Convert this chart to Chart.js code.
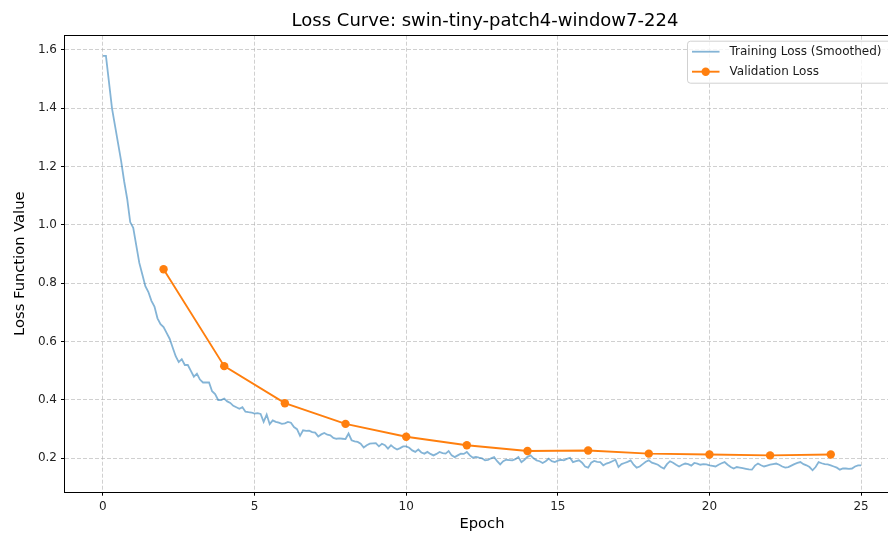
<!DOCTYPE html>
<html><head><meta charset="utf-8">
<script src="https://cdn.jsdelivr.net/npm/chart.js@4/dist/chart.umd.min.js"></script>
<style>
html,body{margin:0;padding:0;overflow:hidden;background:#fff;width:888px;height:533px}
#wrap{position:absolute;left:0;top:0;width:970px;height:533px}
</style></head>
<body><div id="wrap"><canvas id="c" width="970" height="533"></canvas></div>
<script>
const chartTitle = "Loss Curve: swin-tiny-patch4-window7-224";
const xAxisTitle = "Epoch";
const yAxisTitle = "Loss Function Value";
const xTicks = [0, 5, 10, 15, 20, 25];
const yTicks = [0.2, 0.4, 0.6, 0.8, 1.0, 1.2, 1.4, 1.6];

// Training loss (smoothed), one value every 0.1 epoch from 0 to 25
const trainLoss = [
1.58,1.58,1.49,1.40,1.34,1.28,1.22,1.15,1.09,1.01,
0.99,0.93,0.87,0.83,0.79,0.77,0.74,0.72,0.68,0.66,
0.65,0.63,0.61,0.58,0.55,0.53,0.54,0.52,0.52,0.50,
0.48,0.49,0.47,0.46,0.46,0.46,0.43,0.42,0.40,0.40,
0.405,0.395,0.39,0.38,0.375,0.37,0.375,0.36,0.358,0.357,
0.353,0.355,0.352,0.325,0.35,0.317,0.33,0.325,0.322,0.318,
0.32,0.325,0.322,0.307,0.30,0.277,0.296,0.294,0.295,0.29,
0.288,0.275,0.282,0.287,0.281,0.279,0.27,0.267,0.268,0.267,
0.266,0.285,0.262,0.258,0.256,0.25,0.237,0.245,0.25,0.251,
0.252,0.241,0.25,0.245,0.233,0.245,0.236,0.23,0.235,0.241,
0.241,0.236,0.227,0.222,0.23,0.22,0.216,0.222,0.215,0.21,
0.215,0.222,0.218,0.216,0.225,0.21,0.204,0.21,0.216,0.215,
0.222,0.21,0.202,0.205,0.202,0.20,0.193,0.195,0.20,0.204,
0.19,0.179,0.19,0.195,0.194,0.193,0.197,0.204,0.187,0.195,
0.205,0.21,0.20,0.193,0.19,0.184,0.19,0.199,0.19,0.187,
0.192,0.195,0.193,0.198,0.202,0.187,0.19,0.193,0.185,0.172,
0.168,0.185,0.191,0.188,0.187,0.176,0.182,0.185,0.19,0.195,
0.17,0.18,0.184,0.188,0.193,0.178,0.168,0.172,0.18,0.188,
0.193,0.185,0.182,0.178,0.17,0.165,0.18,0.19,0.185,0.178,
0.172,0.178,0.182,0.18,0.175,0.184,0.182,0.178,0.18,0.179,
0.176,0.174,0.172,0.178,0.183,0.187,0.178,0.17,0.165,0.17,
0.168,0.166,0.164,0.162,0.161,0.175,0.182,0.176,0.172,0.175,
0.178,0.18,0.182,0.178,0.172,0.168,0.17,0.175,0.18,0.184,
0.187,0.18,0.176,0.17,0.159,0.17,0.187,0.183,0.18,0.179,
0.176,0.172,0.168,0.161,0.165,0.165,0.164,0.165,0.172,0.176,
0.176
];
const trainEpochs = trainLoss.map((_, i) => i / 10);

const valEpochs = [2, 4, 6, 8, 10, 12, 14, 16, 18, 20, 22, 24];
const valLoss = [0.848, 0.516, 0.389, 0.318, 0.274, 0.245, 0.225, 0.227, 0.216, 0.213, 0.210, 0.213];

const FONT = '"DejaVu Sans", "Liberation Sans", sans-serif';

const framePlugin = {
  id: 'frame',
  afterDatasetsDraw(chart) {
    const a = chart.chartArea, ctx = chart.ctx;
    ctx.save();
    ctx.strokeStyle = '#000';
    ctx.lineWidth = 1;
    ctx.strokeRect(Math.round(a.left) - 0.5, Math.round(a.top) - 0.5,
                   Math.round(a.right - a.left) + 1, Math.round(a.bottom - a.top) + 1);
    ctx.restore();
  }
};

const legendPlugin = {
  id: 'mplLegend',
  afterDraw(chart) {
    const a = chart.chartArea, ctx = chart.ctx;
    const x0 = a.right - 211.5, y0 = a.top + 5.5, w = 205, h = 42;
    ctx.save();
    ctx.beginPath();
    ctx.roundRect(x0, y0, w, h, 3);
    ctx.fillStyle = 'rgba(255,255,255,0.8)';
    ctx.fill();
    ctx.strokeStyle = 'rgba(204,204,204,0.9)';
    ctx.lineWidth = 1;
    ctx.stroke();
    ctx.font = '12px ' + FONT;
    ctx.textBaseline = 'middle';
    ctx.textAlign = 'left';
    chart.data.datasets.forEach((ds, i) => {
      const y = y0 + 10.5 + i * 20;
      ctx.strokeStyle = ds.borderColor;
      ctx.lineWidth = ds.borderWidth;
      ctx.beginPath();
      ctx.moveTo(x0 + 4.5, y);
      ctx.lineTo(x0 + 32, y);
      ctx.stroke();
      if (ds.pointRadius > 0) {
        ctx.fillStyle = ds.pointBackgroundColor;
        ctx.beginPath();
        ctx.arc(x0 + 18.2, y, ds.pointRadius, 0, Math.PI * 2);
        ctx.fill();
      }
      ctx.fillStyle = '#1a1a1a';
      ctx.fillText(ds.label, x0 + 42, y + 0.5);
    });
    ctx.restore();
  }
};

const gridCfg = {
  color: 'rgba(176,176,176,0.6)',
  lineWidth: 1,
  drawTicks: true,
  tickLength: 4,
  tickColor: '#000',
  tickBorderDash: [],
  tickWidth: 1
};

new Chart(document.getElementById('c'), {
  type: 'line',
  data: {
    datasets: [
      {
        label: 'Training Loss (Smoothed)',
        data: trainEpochs.map((x, i) => ({ x: x, y: trainLoss[i] })),
        borderColor: 'rgba(31,119,180,0.55)',
        backgroundColor: 'rgba(31,119,180,0.55)',
        borderWidth: 1.8,
        pointRadius: 0,
        tension: 0,
        order: 1
      },
      {
        label: 'Validation Loss',
        data: valEpochs.map((x, i) => ({ x: x, y: valLoss[i] })),
        borderColor: '#ff7f0e',
        backgroundColor: '#ff7f0e',
        pointBackgroundColor: '#ff7f0e',
        pointBorderWidth: 0,
        borderWidth: 1.9,
        pointRadius: 4.2,
        tension: 0,
        order: 0
      }
    ]
  },
  options: {
    responsive: false,
    devicePixelRatio: 1,
    animation: false,
    layout: { padding: 0 },
    plugins: {
      legend: { display: false },
      tooltip: { enabled: false },
      title: {
        display: true,
        text: chartTitle,
        color: '#000',
        font: { family: FONT, size: 18, weight: 'normal', lineHeight: 1.2 },
        padding: { top: 11, bottom: 3.1 }
      }
    },
    scales: {
      x: {
        type: 'linear',
        min: -1.25,
        max: 26.25,
        afterBuildTicks: s => { s.ticks = xTicks.map(v => ({ value: v })); },
        afterFit: s => { s.height = 41.3; },
        ticks: {
          color: '#222',
          font: { family: FONT, size: 12 },
          padding: 4,
          maxRotation: 0,
          callback: v => String(v)
        },
        grid: gridCfg,
        border: { display: false, dash: [4, 2] },
        title: {
          display: true,
          text: xAxisTitle,
          color: '#000',
          font: { family: FONT, size: 14.7 },
          padding: { top: 0, bottom: 0 }
        }
      },
      y: {
        type: 'linear',
        min: 0.0855,
        max: 1.649,
        afterBuildTicks: s => { s.ticks = yTicks.map(v => ({ value: v })); },
        afterFit: s => { s.width = 65; },
        ticks: {
          color: '#222',
          font: { family: FONT, size: 12 },
          padding: 4,
          callback: v => Number(v).toFixed(1)
        },
        grid: gridCfg,
        border: { display: false, dash: [4, 2] },
        title: {
          display: true,
          text: yAxisTitle,
          color: '#000',
          font: { family: FONT, size: 14.7 },
          padding: { top: 11, bottom: 0 }
        }
      },
      spacer: {
        type: 'linear',
        position: 'right',
        display: true,
        afterFit: s => { s.width = 71; },
        ticks: { display: false },
        grid: { display: false, drawTicks: false },
        border: { display: false }
      }
    }
  },
  plugins: [framePlugin, legendPlugin]
});
</script>
</body></html>
